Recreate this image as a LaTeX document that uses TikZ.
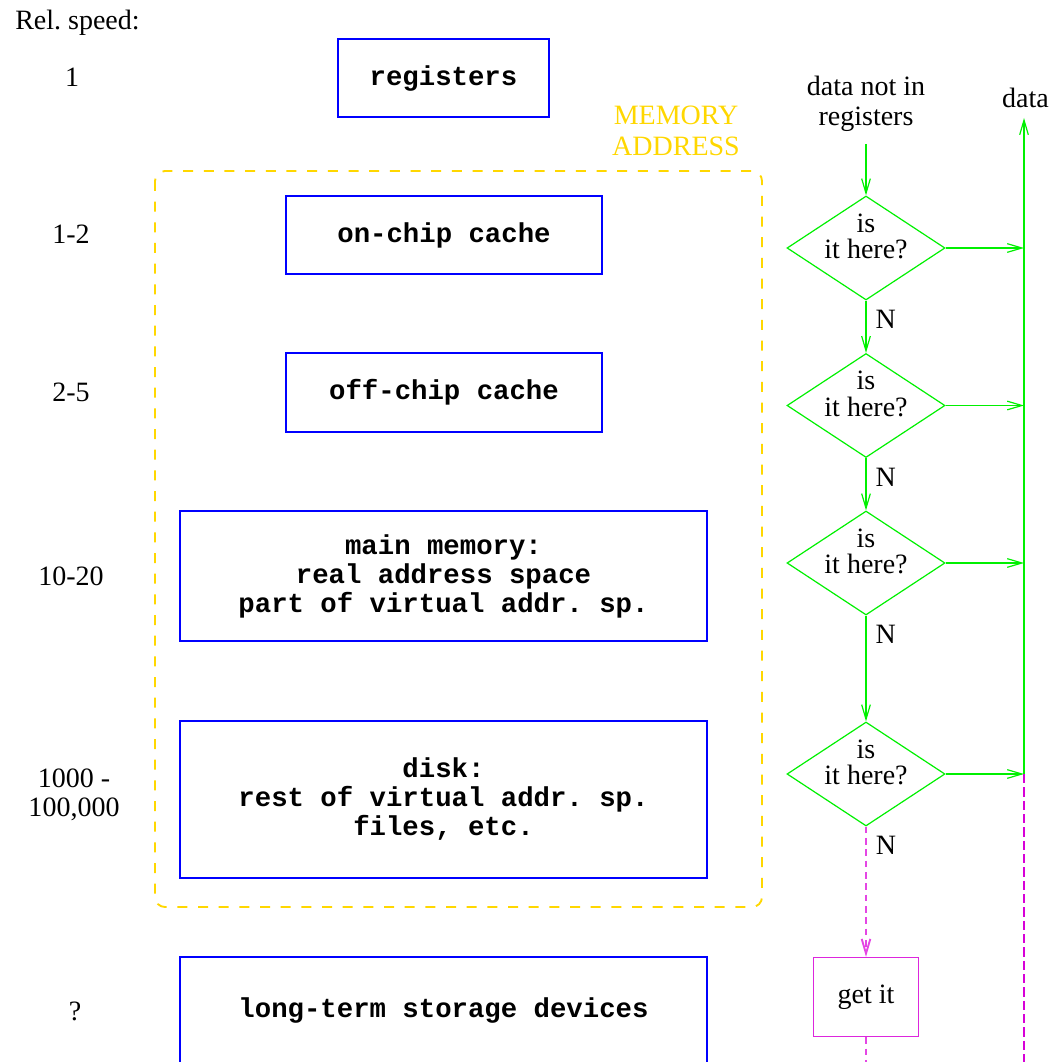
\documentclass[tikz,border=0pt]{standalone}
\usepackage{fontspec}
\setmainfont{Liberation Serif}
\setmonofont{Liberation Mono}
\usetikzlibrary{shapes.geometric,arrows.meta}
\definecolor{boxblue}{RGB}{0,0,255}
\definecolor{flowgreen}{RGB}{0,240,0}
\definecolor{addrgold}{RGB}{255,215,0}
\definecolor{missmag}{RGB}{228,70,228}
\definecolor{busmag}{RGB}{215,0,215}
\begin{document}
\begin{tikzpicture}[x=0.75pt,y=-0.75pt,
  plaintext/.style={font=\fontsize{21}{22.5}\selectfont, inner sep=0pt, align=center},
  memnode/.style={draw=boxblue, line width=0.9pt, inner sep=0pt, align=center,
    font=\fontsize{20.5}{21.75}\selectfont\ttfamily\bfseries},
  memframe/.style={draw=addrgold, line width=1.4pt, rounded corners=7.5pt,
    dash pattern=on 7.5pt off 8pt},
  qdiamond/.style={diamond, draw=flowgreen, line width=0.9pt, inner sep=0pt,
    minimum width=118.5pt, minimum height=78pt},
  qtext/.style={font=\fontsize{21}{20}\selectfont, inner sep=0pt, align=center},
  nlabel/.style={font=\fontsize{21}{22.5}\selectfont, inner sep=6.75pt, anchor=north west},
  tipbarb/.style={-{Straight Barb[length=11pt,width=6.5pt]}},
  yesarrow/.style={draw=flowgreen, line width=0.9pt, tipbarb},
  missline/.style={draw=missmag, line width=1.4pt, dash pattern=on 5pt off 3.5pt},
  busline/.style={draw=busmag, line width=0.8pt, dash pattern=on 7pt off 3pt},
  getbox/.style={draw=busmag!85, line width=1pt, inner sep=0pt,
    minimum width=78.75pt, minimum height=59.25pt, font=\fontsize{21}{22.5}\selectfont}
]
\useasboundingbox (0,0) rectangle (1055,1062);
\clip (0,0) rectangle (1055,1062);

% relative speed column
\node[plaintext, anchor=base west] (hdr) at (15,30) {Rel.\ speed:};
\node[plaintext, anchor=base] (sp1) at (72,87) {1};
\node[plaintext, anchor=base] (sp2) at (71,244) {1-2};
\node[plaintext, anchor=base] (sp3) at (71,401) {2-5};
\node[plaintext, anchor=base] (sp4) at (71,585) {10-20};
\node[plaintext, font=\fontsize{21}{21.75}\selectfont] (sp5) at (74,795) {1000 -\\100,000};
\node[plaintext, anchor=base] (sp6) at (75,1020) {?};

% memory hierarchy
\draw[memframe] (155,171) rectangle (762,907);
\node[plaintext, text=addrgold, font=\fontsize{21}{23}\selectfont] (addr) at (676,131) {MEMORY\\ADDRESS};

\node[memnode, minimum width=158.25pt, minimum height=58.5pt] (reg) at (443.5,78) {registers};
\node[memnode, minimum width=237pt, minimum height=58.5pt] (onchip) at (444,235) {on-chip cache};
\node[memnode, minimum width=237pt, minimum height=59.25pt] (offchip) at (444,392.5) {off-chip cache};
\node[memnode, minimum width=395.25pt, minimum height=97.5pt] (mainmem) at (443.5,576)
  {main memory:\\real address space\\part of virtual addr. sp.};
\node[memnode, minimum width=395.25pt, minimum height=117.75pt] (disk) at (443.5,799.5)
  {disk:\\rest of virtual addr. sp.\\files, etc.};
\node[memnode, anchor=base, minimum width=395.25pt, text height=45pt, text depth=75pt] (lts) at (443.5,1017)
  {long-term storage devices};

% lookup flow
\node[plaintext] (request) at (866,103.5) {data not in\\registers};
\coordinate (reqend) at (866,144);
\node[plaintext] (dataout) at (1025.5,97.5) {data};
\coordinate (bustop) at (1024,118);
\coordinate (busbot) at (1024,774);
\coordinate (busend) at (1024,1075);

\node[qdiamond] (d1) at (866,248) {};
\node[qtext] (q1) at (866,236.5) {is\\it here?};
\node[qdiamond] (d2) at (866,405.5) {};
\node[qtext] (q2) at (866,394) {is\\it here?};
\node[qdiamond] (d3) at (866,563) {};
\node[qtext] (q3) at (866,551.5) {is\\it here?};
\node[qdiamond] (d4) at (866,774) {};
\node[qtext] (q4) at (866,762.5) {is\\it here?};

\node[getbox] (get) at (866,997) {get it};
\coordinate (getend) at (866,1075);

\draw[yesarrow] (reqend) -- (d1.north);
\draw[yesarrow] (d1.south) -- node[nlabel, pos=0] (n1) {N} (d2.north);
\draw[yesarrow] (d2.south) -- node[nlabel, pos=0] (n2) {N} (d3.north);
\draw[yesarrow] (d3.south) -- node[nlabel, pos=0] (n3) {N} (d4.north);
\draw[missline, tipbarb] (d4.south) -- node[nlabel, pos=0] (n4) {N} (get.north);
\draw[missline] (get.south) -- (getend);

\draw[yesarrow] (d1.east) -- (d1.east -| bustop);
\draw[yesarrow] (d2.east) -- (d2.east -| bustop);
\draw[yesarrow] (d3.east) -- (d3.east -| bustop);
\draw[yesarrow] (d4.east) -- (busbot);
\draw[yesarrow] (busbot) -- (bustop);
\draw[busline] (busbot) -- (busend);
\end{tikzpicture}
\end{document}
